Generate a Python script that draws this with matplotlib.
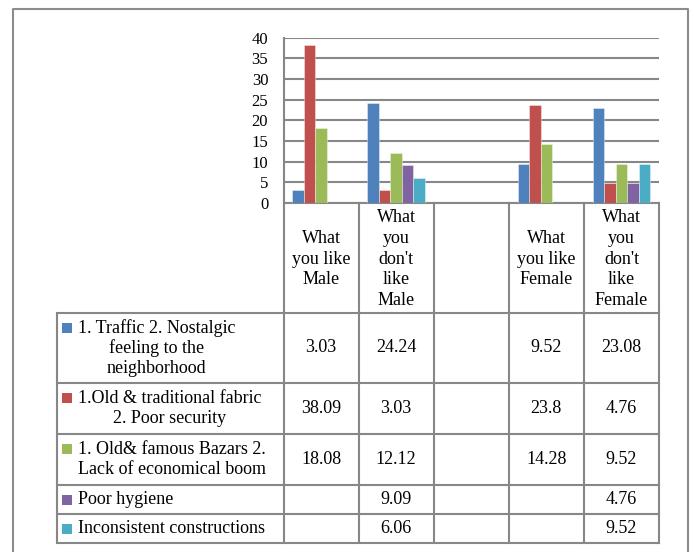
import matplotlib
matplotlib.use("Agg")
import matplotlib.pyplot as plt
from matplotlib.lines import Line2D
from matplotlib.patches import Rectangle
import numpy as np

# ---- data -------------------------------------------------------------
categories = ["What\nyou like\nMale",
              "What\nyou\ndon't\nlike\nMale",
              "",
              "What\nyou like\nFemale",
              "What\nyou\ndon't\nlike\nFemale"]

series_labels = ["1. Traffic 2. Nostalgic\nfeeling to the\nneighborhood",
                 "1.Old & traditional fabric\n2. Poor security",
                 "1. Old& famous Bazars 2.\nLack of economical boom",
                 "Poor hygiene",
                 "Inconsistent constructions"]

traffic_nostalgic = [3.03, 24.24, None, 9.52, 23.08]
fabric_security = [38.09, 3.03, None, 23.8, 4.76]
bazars_economy = [18.08, 12.12, None, 14.28, 9.52]
poor_hygiene = [None, 9.09, None, None, 4.76]
inconsistent_constructions = [None, 6.06, None, None, 9.52]

series_values = [traffic_nostalgic, fabric_security, bazars_economy,
                 poor_hygiene, inconsistent_constructions]
value_labels = [["3.03", "24.24", "", "9.52", "23.08"],
                ["38.09", "3.03", "", "23.8", "4.76"],
                ["18.08", "12.12", "", "14.28", "9.52"],
                ["", "9.09", "", "", "4.76"],
                ["", "6.06", "", "", "9.52"]]

y_ticks = [0, 5, 10, 15, 20, 25, 30, 35, 40]

colors = ["#4F81BD", "#C0504D", "#9BBB59", "#8064A2", "#4BACC6"]

# ---- figure geometry (pixels) -----------------------------------------
W, H = 694, 552
fig = plt.figure(figsize=(W / 100, H / 100), dpi=100)
fig.patch.set_facecolor("white")

FONT = "Liberation Serif"
FS = 13
GRID = "#878787"

def fx(x):
    return x / W

def fy(y):
    return 1 - y / H

plot_l, plot_r, plot_t, plot_b = 283.5, 659.0, 37.5, 203.0
ax = fig.add_axes([fx(plot_l), fy(plot_b), (plot_r - plot_l) / W,
                   (plot_b - plot_t) / H])

n_series = len(series_values)
bar_w = 0.153
x = np.arange(len(categories))
for j, vals in enumerate(series_values):
    xs = [xi + (j - (n_series - 1) / 2) * bar_w for xi, v in zip(x, vals) if v is not None]
    hs = [v for v in vals if v is not None]
    ax.bar(xs, hs, width=bar_w, color=colors[j], edgecolor=(1, 1, 1, 0.45),
           linewidth=0.6, zorder=3)

ax.set_xlim(-0.5, len(categories) - 0.5)
ax.set_ylim(0, 40)
ax.set_yticks(y_ticks)
ax.set_yticklabels([str(t) for t in y_ticks], fontfamily=FONT, fontsize=12)
ax.set_xticks([])
ax.tick_params(axis="y", length=0, pad=11)
ax.yaxis.grid(True, color=GRID, linewidth=1.5)
ax.set_axisbelow(True)
for s in ["top", "right"]:
    ax.spines[s].set_visible(False)
for s in ["left", "bottom"]:
    ax.spines[s].set_color(GRID)
    ax.spines[s].set_linewidth(1.5)
ax.set_facecolor("none")

# ---- data table below the axis ----------------------------------------
col_edges = np.linspace(plot_l, plot_r, len(categories) + 1)
header_bottom = 313.0
row_edges = [313.0, 383.0, 434.0, 485.0, 514.0, 543.0]
legend_left = 57.0

def hline(y, x0, x1):
    fig.add_artist(Line2D([fx(x0), fx(x1)], [fy(y), fy(y)], color=GRID,
                          linewidth=1.5, transform=fig.transFigure))

def vline(x0, y0, y1):
    fig.add_artist(Line2D([fx(x0), fx(x0)], [fy(y0), fy(y1)], color=GRID,
                          linewidth=1.5, transform=fig.transFigure))

for xe in col_edges:
    vline(xe, plot_b, row_edges[-1])
vline(legend_left, header_bottom, row_edges[-1])
for ye in row_edges:
    hline(ye, legend_left, plot_r)

# category headers
for i, cat in enumerate(categories):
    cx = (col_edges[i] + col_edges[i + 1]) / 2
    fig.text(fx(cx), fy((plot_b + header_bottom) / 2 + 1), cat, ha="center",
             va="center", multialignment="center", fontfamily=FONT,
             fontsize=FS, linespacing=1.28)

# legend keys, series names and values
line_h = 20.5
for j, label in enumerate(series_labels):
    r0, r1 = row_edges[j], row_edges[j + 1]
    cy = (r0 + r1) / 2
    n_lines = label.count("\n") + 1
    first_line_y = cy - (n_lines - 1) * line_h / 2
    fig.add_artist(Rectangle((fx(62), fy(first_line_y + 5)), 10 / W, 10 / H,
                             facecolor=colors[j], edgecolor="none",
                             transform=fig.transFigure))
    fig.text(fx(78), fy(cy), label, ha="left", va="center",
             multialignment="center", fontfamily=FONT, fontsize=FS,
             linespacing=1.22)
    for i, txt in enumerate(value_labels[j]):
        if txt:
            cx = (col_edges[i] + col_edges[i + 1]) / 2
            fig.text(fx(cx), fy(cy), txt, ha="center", va="center",
                     fontfamily=FONT, fontsize=FS)

# outer frame
fig.add_artist(Line2D([fx(12.5), fx(12.5), fx(688), fx(688)],
                      [fy(560), fy(8.5), fy(8.5), fy(560)], color="#8c8c8c",
                      linewidth=1.5, transform=fig.transFigure))

fig.savefig("out.png", dpi=100, facecolor="white")
